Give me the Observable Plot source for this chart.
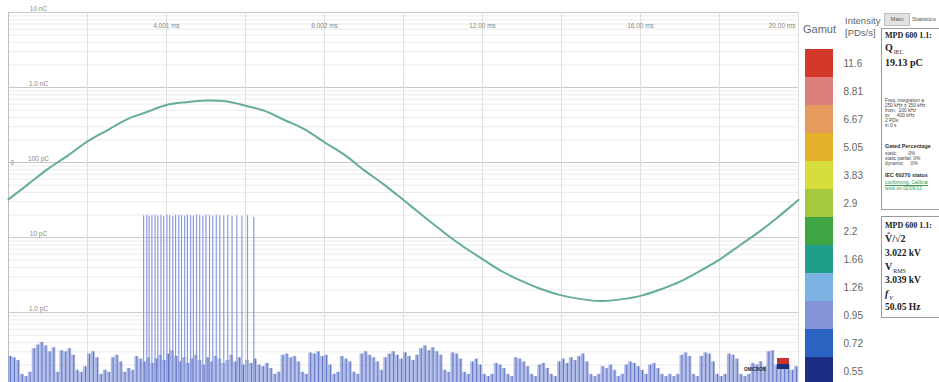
<!DOCTYPE html>
<html><head><meta charset="utf-8">
<script src="https://cdn.jsdelivr.net/npm/d3@7"></script>
<script src="https://cdn.jsdelivr.net/npm/@observablehq/plot@0.6"></script>
<style>
html,body{margin:0;padding:0;background:#fff;overflow:hidden;}
#wrap{position:relative;width:939px;height:382px;overflow:hidden;font-family:"Liberation Sans",Arial,sans-serif;}
#main,#volt,#gamut{position:absolute;top:0;}
#main,#volt{left:0;}
#gamut{left:800px;}
.t{position:absolute;white-space:nowrap;}
.box{position:absolute;left:881px;width:80px;border:1px solid #9a9a9a;background:#fff;}
.sf{font-family:"Liberation Serif","DejaVu Serif",serif;font-weight:bold;color:#222;}
.sm{font-family:"Liberation Sans",sans-serif;font-size:4.8px;color:#444;}
.smb{font-family:"Liberation Sans",sans-serif;font-size:5.4px;font-weight:bold;color:#333;}
.sub{font-size:6px;font-weight:normal;position:relative;top:3px;margin-left:1px;}
</style></head>
<body><div id="wrap">
<div id="main"></div><div id="volt"></div><div id="gamut"></div>
<div class="t" style="left:803px;top:23px;font-size:11px;color:#666;">Gamut</div>
<div class="t" style="left:845px;top:15px;font-size:9.5px;color:#666;">Intensity</div>
<div class="t" style="left:845px;top:27px;font-size:9.5px;color:#666;">[PDs/s]</div>
<div class="t" style="left:884px;top:13px;width:24px;height:11px;background:#e2e2e2;border:1px solid #bdbdbd;font-size:6px;color:#555;text-align:center;line-height:11px;">Main</div>
<div class="t" style="left:912px;top:14px;font-size:6px;color:#555;line-height:11px;">Statistics</div>
<div class="box" style="top:28px;height:180px;">
  <div class="t sf" style="left:3px;top:2px;font-size:8px;">MPD 600 1.1:</div>
  <div class="t sf" style="left:3px;top:13px;font-size:10px;">Q<span class="sub">IEC</span></div>
  <div class="t sf" style="left:3px;top:28px;font-size:10px;">19.13 pC</div>
  <div class="t sm" style="left:3px;top:69px;">Freq. integration a</div>
  <div class="t sm" style="left:3px;top:74px;">250 kHz ± 150 kHz</div>
  <div class="t sm" style="left:3px;top:79px;">from:&nbsp; 100 kHz</div>
  <div class="t sm" style="left:3px;top:84px;">to:&nbsp;&nbsp;&nbsp;&nbsp; 400 kHz</div>
  <div class="t sm" style="left:3px;top:89px;">2 PDs</div>
  <div class="t sm" style="left:3px;top:94px;">in 0 s</div>
  <div class="t smb" style="left:3px;top:114px;">Gated Percentage</div>
  <div class="t sm" style="left:3px;top:122px;">static:&nbsp;&nbsp;&nbsp;&nbsp;&nbsp;&nbsp;&nbsp; 0%</div>
  <div class="t sm" style="left:3px;top:127px;">static partial: 0%</div>
  <div class="t sm" style="left:3px;top:132px;">dynamic:&nbsp;&nbsp;&nbsp;&nbsp; 0%</div>
  <div class="t smb" style="left:3px;top:143px;">IEC 60270 status</div>
  <div class="t sm" style="left:3px;top:151px;color:#3a9a4a;text-decoration:underline;">conforming. Calibrat</div>
  <div class="t sm" style="left:3px;top:157px;color:#3a9a4a;">tests on 02/09/12</div>
</div>
<div class="box" style="top:216px;height:100px;">
  <div class="t sf" style="left:3px;top:4px;font-size:8px;">MPD 600 1.1:</div>
  <div class="t sf" style="left:3px;top:16px;font-size:10px;">V&#770;/√2</div>
  <div class="t sf" style="left:3px;top:31px;font-size:9.5px;">3.022 kV</div>
  <div class="t sf" style="left:3px;top:44px;font-size:10px;">V<span class="sub">RMS</span></div>
  <div class="t sf" style="left:3px;top:58px;font-size:9.5px;">3.039 kV</div>
  <div class="t sf" style="left:3px;top:71px;font-size:10px;font-style:italic;">f<span class="sub">V</span></div>
  <div class="t sf" style="left:3px;top:85px;font-size:9.5px;">50.05 Hz</div>
</div>
<div class="t" style="left:744px;top:367px;font-size:4.5px;font-weight:bold;color:#222;">OMICRON</div>
<div class="t" style="left:777px;top:358px;width:12px;height:6px;background:#c8332b;"></div>
<div class="t" style="left:777px;top:364px;width:12px;height:5px;background:#1d2f7a;"></div>
</div>
<script>
// ---- data ----
const chargeTicks = [10000, 1000, 100, 10, 1];
const chargeLabels = ["10 nC", "1.0 nC", "100 pC", "10 pC", "1.0 pC"];
const decades = [0.1, 1, 10, 100, 1000];
const gridTimes = [0, 2, 4, 6, 8, 10, 12, 14, 16, 18, 20];
const timeTicks = [4, 8, 12, 16, 20];
const timeLabels = ["4.001 ms", "8.002 ms", "12.00 ms", "16.00 ms", "20.00 ms"];

const voltTimes = [0,0.5,1,1.5,2,2.5,3,3.5,4,4.5,5,5.5,6,6.5,7,7.5,8,8.5,9,9.5,10,10.5,11,11.5,12,12.5,13,13.5,14,14.5,15,15.5,16,16.5,17,17.5,18,18.5,19,19.5,20];
const voltValues = [0.05,0.70,1.35,1.92,2.53,3.00,3.47,3.78,4.08,4.20,4.27,4.24,4.05,3.82,3.43,3.04,2.49,1.96,1.30,0.69,0.02,-0.66,-1.33,-1.95,-2.50,-3.03,-3.44,-3.79,-4.05,-4.21,-4.29,-4.22,-4.07,-3.80,-3.46,-3.01,-2.52,-1.93,-1.34,-0.68,0.03];

const pulseTimes = [3.42,3.50,3.56,3.63,3.71,3.78,3.86,3.93,4.01,4.08,4.16,4.23,4.31,4.38,4.46,4.53,4.61,4.68,4.76,4.84,4.92,5.00,5.09,5.17,5.26,5.35,5.45,5.55,5.66,5.78,5.91,6.05,6.21];
const pulseCharges = [19.5,19.8,19.2,19.6,19.9,19.4,19.7,19.1,19.8,19.6,19.3,19.9,19.5,19.7,19.2,19.8,19.6,19.4,19.9,19.5,19.3,19.7,19.6,19.2,19.8,19.5,19.4,19.7,19.1,19.6,19.3,19.5,18.6];

// background noise, one value per 0.1 ms bin (pC)
const noiseCharges = [
0.26,0.25,0.23,0.15,0.14,0.16,0.33,0.37,0.40,0.36,
0.30,0.34,0.16,0.31,0.30,0.33,0.27,0.17,0.16,0.19,
0.28,0.30,0.25,0.15,0.17,0.16,0.25,0.27,0.22,0.16,
0.18,0.17,0.26,0.24,0.22,0.25,0.21,0.24,0.27,0.23,
0.28,0.31,0.26,0.22,0.25,0.21,0.24,0.27,0.23,0.20,
0.25,0.22,0.26,0.24,0.21,0.23,0.27,0.22,0.25,0.20,
0.23,0.21,0.24,0.20,0.19,0.21,0.18,0.15,0.16,0.27,
0.28,0.25,0.26,0.22,0.16,0.15,0.29,0.28,0.30,0.26,
0.27,0.20,0.15,0.16,0.26,0.24,0.22,0.16,0.15,0.28,
0.30,0.27,0.25,0.22,0.17,0.25,0.28,0.30,0.27,0.24,
0.29,0.26,0.23,0.27,0.33,0.36,0.31,0.34,0.30,0.27,
0.17,0.16,0.29,0.28,0.24,0.16,0.15,0.22,0.24,0.20,
0.15,0.14,0.15,0.21,0.20,0.18,0.15,0.14,0.25,0.24,
0.22,0.19,0.15,0.14,0.20,0.21,0.18,0.15,0.14,0.22,
0.24,0.21,0.25,0.23,0.26,0.28,0.22,0.15,0.14,0.15,
0.19,0.18,0.20,0.17,0.14,0.15,0.20,0.22,0.21,0.19,
0.17,0.15,0.20,0.21,0.18,0.15,0.14,0.15,0.14,0.15,
0.27,0.29,0.26,0.15,0.14,0.26,0.29,0.28,0.22,0.15,
0.14,0.15,0.28,0.27,0.24,0.15,0.14,0.15,0.21,0.20,
0.22,0.19,0.30,0.31,0.20,0.22,0.18,0.20,0.17,0.19];
const noiseBin = 0.1;

const intensityLabels = ["11.6","8.81","6.67","5.05","3.83","2.9","2.2","1.66","1.26","0.95","0.72","0.55"];
const gamutColors = ["#d3392b","#de7e7a","#e59a5e","#e5b02a","#d6dd3c","#a4c83e","#3fa544","#1f9e8c","#7cb3e2","#8593d9","#2b63c2","#1b2d86"];

// ---- build tables ----
const yMin = 0.117, yMax = 10000;
const minorTicks = decades.flatMap(d => [2,3,4,5,6,7,8,9].map(k => k * d));
const chargeLabelData = chargeTicks.map((v, i) => ({v, label: chargeLabels[i]}));
const timeLabelData = timeTicks.map((t, i) => ({t, label: timeLabels[i]}));
const voltData = voltTimes.map((t, i) => ({t, v: voltValues[i]}));
const pulses = pulseTimes.map((t, i) => ({t, q: pulseCharges[i]}));
const noise = noiseCharges.map((q, i) => ({t: i * noiseBin, t2: (i + 1) * noiseBin, q}));

const W = 805, H = 382, ML = 8, MR = 7, MT = 12, MB = 0;
const font = "Liberation Sans, Arial, sans-serif";

const main = Plot.plot({
  width: W, height: H, marginLeft: ML, marginRight: MR, marginTop: MT, marginBottom: MB,
  x: {domain: [0, 20], axis: null},
  y: {type: "log", domain: [yMin, yMax], axis: null},
  style: {background: "transparent", fontFamily: font},
  marks: [
    Plot.ruleY(minorTicks, {stroke: "#ebebeb", strokeWidth: 1}),
    Plot.ruleY(chargeTicks, {stroke: "#c9c9c9", strokeWidth: 1}),
    Plot.ruleX(gridTimes, {stroke: "#e0e0e0", strokeWidth: 1}),
    Plot.ruleX([0], {stroke: "#bdbdbd"}),
    Plot.rect(noise, {x1: "t", x2: "t2", y1: yMin, y2: "q", fill: "#8696d8", fillOpacity: 0.65}),
    Plot.ruleX(noise, {x: d => d.t + noiseBin / 2, y1: yMin, y2: "q", stroke: "#4a60b8", strokeWidth: 0.9, strokeOpacity: 0.85}),
    Plot.ruleX(pulses, {x: "t", y1: yMin, y2: "q", stroke: "#8a9cdd", strokeWidth: 1.2}),
    Plot.text(chargeLabelData, {x: 0, y: "v", text: "label", dx: 30, dy: -4, fontSize: 6.5, fill: "#888"}),
    Plot.text(["0"], {x: 0, y: 100, text: d => d, dx: 2, textAnchor: "start", fontSize: 6.5, fill: "#888"}),
    Plot.text(timeLabelData.slice(0, 4), {x: "t", y: yMax, text: "label", dy: 13, fontSize: 6.5, fill: "#888"}),
    Plot.text(timeLabelData.slice(4), {x: "t", y: yMax, text: "label", dy: 13, dx: -3, textAnchor: "end", fontSize: 6.5, fill: "#888"})
  ]
});
document.getElementById("main").append(main);

const volt = Plot.plot({
  width: W, height: H, marginLeft: ML, marginRight: MR, marginTop: MT, marginBottom: MB,
  x: {domain: [0, 20], axis: null},
  y: {domain: [-7.77, 8.03], axis: null},
  style: {background: "transparent"},
  marks: [
    Plot.line(voltData, {x: "t", y: "v", stroke: "#64ad98", strokeWidth: 2, curve: "catmull-rom"})
  ]
});
document.getElementById("volt").append(volt);

const gamut = Plot.plot({
  width: 80, height: 390, marginLeft: 5, marginRight: 47, marginTop: 43, marginBottom: 0,
  x: {type: "band", domain: ["g"], axis: null, padding: 0},
  y: {type: "band", domain: intensityLabels, padding: 0, axis: "right", tickSize: 0, tickPadding: 10, label: null},
  color: {type: "ordinal", domain: intensityLabels, range: gamutColors},
  style: {background: "transparent", fontSize: "10px", color: "#666", fontFamily: font},
  marks: [
    Plot.cell(intensityLabels, {x: () => "g", y: d => d, fill: d => d, inset: 0})
  ]
});
document.getElementById("gamut").append(gamut);
</script>
</body></html>
